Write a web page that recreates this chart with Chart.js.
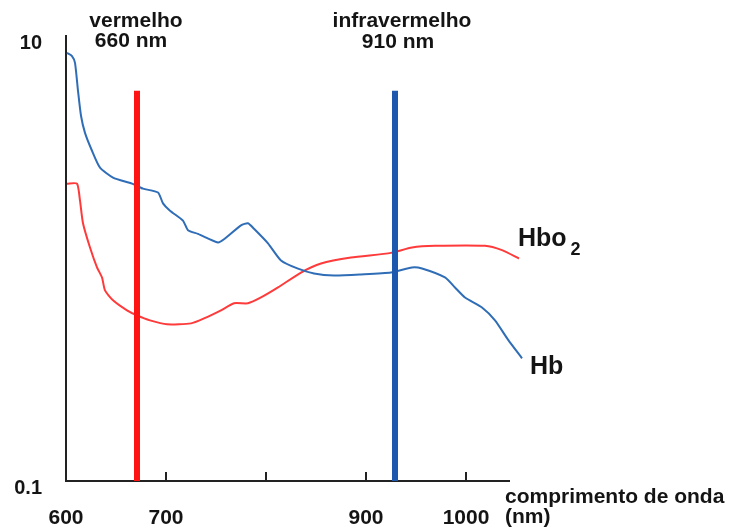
<!DOCTYPE html>
<html>
<head>
<meta charset="utf-8">
<script src="https://cdn.jsdelivr.net/npm/chart.js@4.4.0/dist/chart.umd.min.js"></script>
<style>
  body { margin: 0; background: #fff; }
  canvas { display: block; }
</style>
</head>
<body>
<canvas id="grafico" width="746" height="529"></canvas>
<script>
// Absorção da hemoglobina (Hb) em função do comprimento de onda (nm)
const hbLambda = [601, 606, 609, 612, 615, 619, 626, 634, 647, 666, 677, 692, 697, 704, 717, 722, 732, 752, 758,
  775, 782, 788, 802, 815, 832, 848, 868, 895, 925, 946, 956, 979, 989, 999, 1016, 1029, 1042, 1056];
const hbValores = [8.39, 8.13, 7.57, 5.67, 4.38, 3.67, 3.05, 2.56, 2.31, 2.17, 2.06, 1.98, 1.77, 1.64, 1.48, 1.34, 1.29, 1.18, 1.22,
  1.41, 1.44, 1.36, 1.17, 0.98, 0.90, 0.857, 0.839, 0.848, 0.865, 0.912, 0.902, 0.822, 0.741, 0.668, 0.602, 0.527, 0.432, 0.356];

// Absorção da oxi-hemoglobina (HbO2)
const hbo2Lambda = [601, 611, 614, 617, 624, 631, 636, 639, 647, 661, 671, 684, 701, 725, 738, 755, 768, 782, 795,
  812, 835, 855, 885, 925, 946, 969, 1019, 1036, 1053];
const hbo2Valores = [2.17, 2.17, 1.82, 1.44, 1.12, 0.912, 0.822, 0.719, 0.649, 0.585, 0.555, 0.527, 0.506, 0.511, 0.538, 0.585, 0.629, 0.629, 0.668,
  0.741, 0.865, 0.950, 1.01, 1.06, 1.12, 1.14, 1.14, 1.09, 1.00];

// Linhas dos LEDs (vermelho e infravermelho)
const ledLambda = [671, 929];
const ledCores = ['#ff1414', '#1b58ae'];
const ledTopo = 5.67;
const ledBase = 0.1;

// Marcas dos eixos
const xTicks = [600, 700, 800, 900, 1000];
const xTickLabels = ['600', '700', '', '900', '1000'];
const yTicks = [0.1, 10];
const yTickLabels = ['0.1', '10'];

const corTexto = '#141414';
const fonte = '"Liberation Sans", Arial, Helvetica, sans-serif';

function pontos(xs, ys) {
    return xs.map((x, i) => ({ x: x, y: ys[i] }));
}

// Marcas para dentro no eixo x e textos do gráfico
const textosPlugin = {
    id: 'textos',
    beforeDatasetsDraw(chart) {
        const ctx = chart.ctx;
        const xs = chart.scales.x;
        const base = chart.chartArea.bottom;
        ctx.save();
        ctx.strokeStyle = '#222';
        ctx.lineWidth = 2;
        xTicks.slice(1).forEach(v => {
            const px = Math.round(xs.getPixelForValue(v));
            ctx.beginPath();
            ctx.moveTo(px, base);
            ctx.lineTo(px, base - 9);
            ctx.stroke();
        });
        ctx.restore();
    },
    afterDraw(chart) {
        const ctx = chart.ctx;
        ctx.save();
        ctx.fillStyle = corTexto;
        ctx.font = 'bold 21px ' + fonte;
        ctx.textAlign = 'center';
        ctx.fillText('vermelho', 136, 27);
        ctx.fillText('660 nm', 131, 47);
        ctx.fillText('infravermelho', 402, 27);
        ctx.fillText('910 nm', 398, 48);

        ctx.textAlign = 'left';
        ctx.fillText('comprimento de onda', 505, 503);
        ctx.fillText('(nm)', 505, 523);

        ctx.font = 'bold 25px ' + fonte;
        ctx.fillText('Hbo', 518, 246);
        const w = ctx.measureText('Hbo').width;
        ctx.font = 'bold 18px ' + fonte;
        ctx.fillText('2', 518 + w + 4, 255);
        ctx.font = 'bold 25px ' + fonte;
        ctx.fillText('Hb', 530, 374);
        ctx.restore();
    }
};

const datasets = [
    {
        label: 'Hb',
        data: pontos(hbLambda, hbValores),
        borderColor: '#2f6db6',
        borderWidth: 2,
        tension: 0.2,
        clip: false,
        order: 2
    },
    {
        label: 'HbO2',
        data: pontos(hbo2Lambda, hbo2Valores),
        borderColor: '#ff3a3a',
        borderWidth: 2,
        tension: 0.2,
        clip: false,
        order: 2
    }
];

ledLambda.forEach((l, i) => {
    datasets.push({
        label: 'LED ' + l,
        data: [{ x: l, y: ledBase }, { x: l, y: ledTopo }],
        borderColor: ledCores[i],
        borderWidth: 6,
        borderCapStyle: 'butt',
        clip: false,
        order: 1
    });
});

new Chart(document.getElementById('grafico'), {
    type: 'line',
    data: { datasets: datasets },
    options: {
        responsive: false,
        animation: false,
        layout: { padding: { top: 35, right: 237, bottom: 0, left: 0 } },
        elements: { point: { radius: 0 } },
        plugins: {
            legend: { display: false },
            tooltip: { enabled: false }
        },
        scales: {
            x: {
                type: 'linear',
                min: 600,
                max: 1043,
                grid: { display: false, drawTicks: false },
                border: { display: true, color: '#222', width: 2 },
                afterFit: (scale) => { scale.height = 48; },
                afterBuildTicks: (scale) => { scale.ticks = xTicks.map(v => ({ value: v })); },
                ticks: {
                    autoSkip: false,
                    maxRotation: 0,
                    padding: 25,
                    color: corTexto,
                    font: { family: fonte, size: 21, weight: 'bold' },
                    callback: (value) => xTickLabels[xTicks.indexOf(value)]
                }
            },
            y: {
                type: 'logarithmic',
                min: 0.1,
                max: 10,
                grid: { display: false, drawTicks: false },
                border: { display: true, color: '#222', width: 2 },
                afterFit: (scale) => { scale.width = 66; },
                afterBuildTicks: (scale) => { scale.ticks = yTicks.map(v => ({ value: v })); },
                ticks: {
                    autoSkip: false,
                    padding: 24,
                    labelOffset: 7,
                    color: corTexto,
                    font: { family: fonte, size: 20, weight: 'bold' },
                    callback: (value) => yTickLabels[yTicks.indexOf(value)]
                }
            }
        }
    },
    plugins: [textosPlugin]
});
</script>
</body>
</html>
